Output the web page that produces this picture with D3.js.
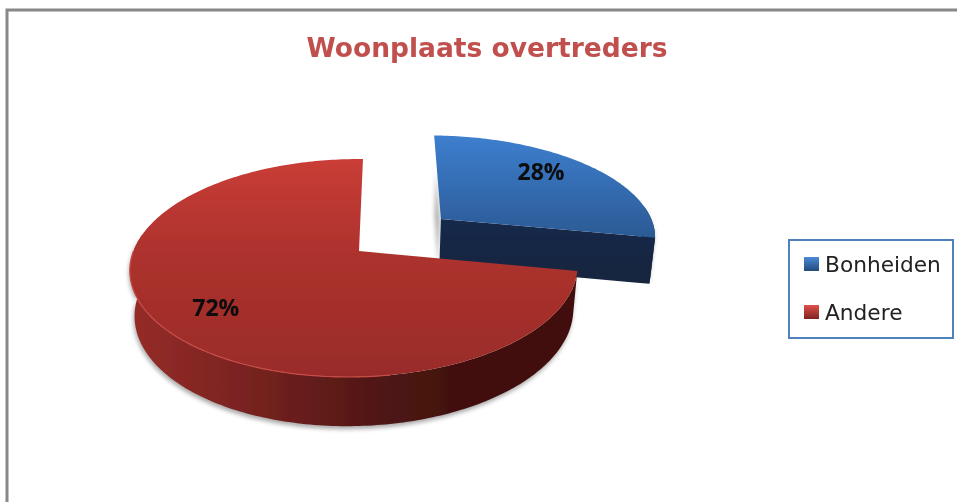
<!DOCTYPE html>
<html><head><meta charset="utf-8">
<script src="https://cdn.jsdelivr.net/npm/d3@7"></script>
<style>html,body{margin:0;padding:0;background:#fff;overflow:hidden}svg{display:block}</style>
</head><body><svg id="c" width="957" height="502"></svg>
<script>
const categories = ["Bonheiden", "Andere"];
const values = [28, 72];
const explode = [0.5, 0];
const chartTitle = "Woonplaats overtreders";

const svg = d3.select("#c");
const defs = svg.append("defs");
function grad(id, x1, y1, x2, y2, stops) {
  const g = defs.append("linearGradient").attr("id", id).attr("gradientUnits", "userSpaceOnUse")
    .attr("x1", x1).attr("y1", y1).attr("x2", x2).attr("y2", y2);
  stops.forEach(s => g.append("stop").attr("offset", s[0]).attr("stop-color", s[1]));
}
grad("redTop", 0, 159, 0, 377, [[0, "#c93d36"], [0.45, "#ac312d"], [1, "#992c29"]]);
grad("blueTop", 0, 135, 0, 238, [[0, "#3d7fcf"], [1, "#2b5a94"]]);
grad("redWall", 132, 0, 575, 0, [[0, "#952c28"], [0.25, "#7a2320"], [0.52, "#541816"], [0.72, "#42110e"], [1, "#42110e"]]);
grad("blueWall", 0, 218, 0, 284, [[0, "#16294a"], [1, "#14263e"]]);
const lg1 = defs.append("linearGradient").attr("id", "lgB").attr("x1", 0).attr("y1", 0).attr("x2", 0).attr("y2", 1);
lg1.append("stop").attr("offset", 0).attr("stop-color", "#4a8ad8");
lg1.append("stop").attr("offset", 1).attr("stop-color", "#234a7c");
const lg2 = defs.append("linearGradient").attr("id", "lgR").attr("x1", 0).attr("y1", 0).attr("x2", 0).attr("y2", 1);
lg2.append("stop").attr("offset", 0).attr("stop-color", "#e0504a");
lg2.append("stop").attr("offset", 1).attr("stop-color", "#7e2320");
defs.append("filter").attr("id", "soft").append("feGaussianBlur").attr("stdDeviation", 0.5);
defs.append("filter").attr("id", "textSoft").append("feGaussianBlur").attr("stdDeviation", 0.35);
defs.append("filter").attr("id", "shadow").attr("x", "-10%").attr("y", "-10%").attr("width", "120%").attr("height", "120%")
  .append("feGaussianBlur").attr("stdDeviation", 2.2);

// Frame
svg.append("path").attr("d", "M7,502V10H957").attr("fill", "none").attr("stroke", "#888").attr("stroke-width", 3);

// Title
svg.append("text").attr("x", 487).attr("y", 57).attr("text-anchor", "middle").attr("filter", "url(#textSoft)")
  .attr("font-family", "DejaVu Sans").attr("font-weight", "bold").attr("font-size", 26.5)
  .attr("fill", "#c0504d").text(chartTitle);

// Perspective projection of the pie disc
const apex = [359, 251], R = 221, RY = 106.3, persp = -0.156, skew = 0.02, shear = -4.6, shrink = 0.02;
const sliceScale = [1.035, 1], sliceDepth = [49, 45];
function project(u, v, z, depth) {
  const w = 1 + persp * v + skew * u + shrink * z;
  return [apex[0] + (R * u + shear * v) / w, apex[1] + (RY * v + depth * z) / w];
}
const arcs = d3.pie().sort(null).value(d => d)(values);
const line = d3.line();
const STEP = Math.PI / 180;

const slices = arcs.map((a, i) => {
  const mid = (a.startAngle + a.endAngle) / 2;
  const ou = explode[i] * Math.sin(mid), ov = -explode[i] * Math.cos(mid);
  const thetas = d3.range(a.startAngle, a.endAngle, STEP).concat([a.endAngle]);
  const pt = (t, r, z) => project(ou + r * sliceScale[i] * Math.sin(t), ov - r * Math.cos(t), z, sliceDepth[i]);
  return {i, a, mid, thetas, front: thetas.filter(t => t > Math.PI * 0.45 && t < Math.PI * 1.55), pt};
});

function wall(s, thetas) {
  const top = thetas.map(t => s.pt(t, 1, 0));
  const bot = thetas.map(t => s.pt(t, 1, 1)).reverse();
  return line(top.concat(bot)) + "Z";
}
function radial(s, t) {
  return line([s.pt(t, 0, 0), s.pt(t, 1, 0), s.pt(t, 1, 1), s.pt(t, 0, 1)]) + "Z";
}
function topFace(s) {
  return line([s.pt(0, 0, 0)].concat(s.thetas.map(t => s.pt(t, 1, 0)))) + "Z";
}

const pieG = svg.append("g").attr("filter", "url(#soft)");
const blue = slices[0], red = slices[1];

// Shadows under the extruded parts
const shadow = svg.insert("g", "g").attr("filter", "url(#shadow)").attr("fill", "#555").attr("opacity", 0.5);
shadow.append("path").attr("d", wall(red, red.front)).attr("transform", "translate(-1,3)");
shadow.append("path").attr("d", line([blue.pt(0, 0, 0), blue.pt(0, 0.55, 0), blue.pt(0, 0.55, 1), blue.pt(0, 0, 1)]) + "Z").attr("transform", "translate(-1,1)");
shadow.append("path").attr("d", wall(blue, blue.front)).attr("transform", "translate(-1,2)");

// Blue slice
pieG.append("path").attr("d", radial(blue, blue.a.endAngle)).attr("fill", "url(#blueWall)");
pieG.append("path").attr("d", wall(blue, blue.front)).attr("fill", "url(#blueWall)");
pieG.append("path").attr("d", topFace(blue)).attr("fill", "url(#blueTop)");

// Red slice
pieG.append("path").attr("d", wall(red, red.front)).attr("fill", "url(#redWall)");
pieG.append("path").attr("d", topFace(red)).attr("fill", "url(#redTop)");
const rimAngles = red.thetas.filter(t => t > Math.PI * 0.95 && t < Math.PI * 1.5);
pieG.append("path").attr("d", line(rimAngles.map(t => red.pt(t, 1, 0)))).attr("fill", "none")
  .attr("stroke", "#c94c47").attr("stroke-width", 1.2);

// Percent labels
const total = d3.sum(values);
const labelRadius = [0.8, 0.75], labelDx = [-18, -1], labelDy = [6, 9];
slices.forEach(s => {
  const p = s.pt(s.mid, labelRadius[s.i], 0);
  svg.append("text").attr("x", p[0] + labelDx[s.i]).attr("y", p[1] + labelDy[s.i]).attr("text-anchor", "middle")
    .attr("filter", "url(#textSoft)")
    .attr("font-family", "Open Sans").attr("font-weight", "bold").attr("font-size", 23)
    .attr("fill", "#0a0a0a").text(d3.format(".0%")(values[s.i] / total));
});

// Legend
svg.append("rect").attr("x", 789).attr("y", 240).attr("width", 164).attr("height", 98)
  .attr("fill", "#fff").attr("stroke", "#4f81bd").attr("stroke-width", 2);
const legendY = d3.scalePoint().domain(categories).range([264, 312]);
categories.forEach((c, i) => {
  svg.append("rect").attr("x", 804).attr("y", legendY(c) - 7).attr("width", 15).attr("height", 14)
    .attr("fill", i === 0 ? "url(#lgB)" : "url(#lgR)");
  svg.append("text").attr("x", 825).attr("y", legendY(c) + 8).attr("filter", "url(#textSoft)")
    .attr("font-family", "DejaVu Sans").attr("font-size", 21.7).attr("fill", "#222").text(c);
});
</script></body></html>
